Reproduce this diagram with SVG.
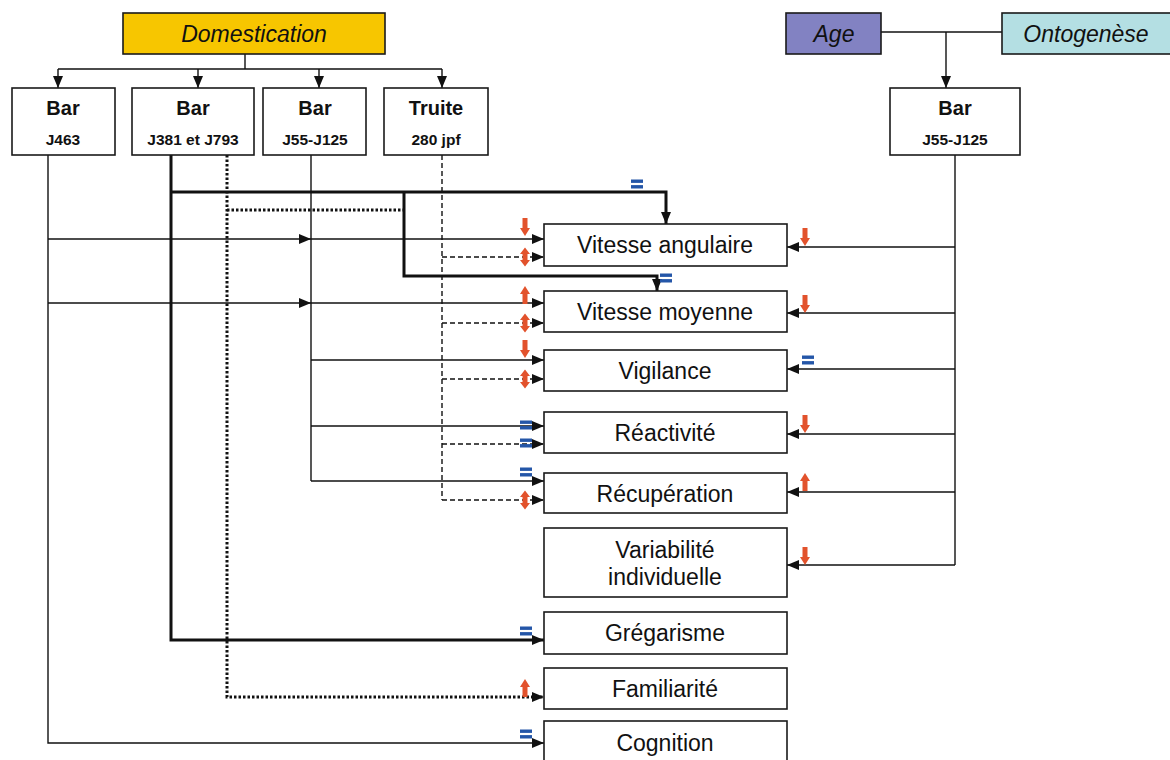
<svg xmlns="http://www.w3.org/2000/svg" xmlns:xlink="http://www.w3.org/1999/xlink" width="1170" height="760" viewBox="0 0 1170 760">
<style>
.box{fill:#fff;stroke:#1a1a1a;stroke-width:1.6}
.t{font-family:"Liberation Sans",Arial,sans-serif;fill:#111;text-anchor:middle}
.prop{font-size:23px}
.ti{font-size:23px;font-style:italic}
.b1{font-size:20px;font-weight:bold}
.b2{font-size:15.5px;font-weight:bold}
.ln{fill:none;stroke:#111;stroke-width:1.4}
.thick{fill:none;stroke:#111;stroke-width:3}
.dot{fill:none;stroke:#111;stroke-width:3;stroke-dasharray:2.5 2}
.dash{fill:none;stroke:#111;stroke-width:1.4;stroke-dasharray:5 3}
.red{fill:#E2522C}
.blue{fill:#2456A8}
</style>
<defs>
<marker id="ah" markerUnits="userSpaceOnUse" markerWidth="12" markerHeight="10" refX="12" refY="5" orient="auto">
<path d="M0,0 L12,5 L0,10 Z" fill="#111"/>
</marker>
<path id="down" class="red" d="M-2.5,-9 H2.5 V1 H5 L0,9 L-5,1 H-2.5 Z"/>
<path id="up" class="red" d="M-2.5,9 H2.5 V-1 H5 L0,-9 L-5,-1 H-2.5 Z"/>
<path id="dbl" class="red" d="M0,-9.5 L5,-3 H2.5 V3 H5 L0,9.5 L-5,3 H-2.5 V-3 H-5 Z"/>
<g id="eq" class="blue"><rect x="-6" y="-4.5" width="12" height="3.4"/><rect x="-6" y="1.1" width="12" height="3.4"/></g>
</defs>

<g id="connectors">
<!-- Domestication tree -->
<path class="ln" d="M245,54 V69 M58,69 H442"/>
<path class="ln" marker-end="url(#ah)" d="M58,69 V88"/>
<path class="ln" marker-end="url(#ah)" d="M198,69 V88"/>
<path class="ln" marker-end="url(#ah)" d="M319,69 V88"/>
<path class="ln" marker-end="url(#ah)" d="M442,69 V88"/>
<!-- Age / Ontogenese -->
<path class="ln" d="M881,32 H1002"/>
<path class="ln" marker-end="url(#ah)" d="M946,32 V88"/>
<!-- Bar J463 -->
<path class="ln" marker-end="url(#ah)" d="M48,155 V743 H544"/>
<path class="ln" marker-end="url(#ah)" d="M48,239 H311"/>
<path class="ln" marker-end="url(#ah)" d="M311,239 H544"/>
<path class="ln" marker-end="url(#ah)" d="M48,303 H311"/>
<path class="ln" marker-end="url(#ah)" d="M311,303 H544"/>
<!-- Bar J381 et J793 thick -->
<path class="thick" marker-end="url(#ah)" d="M171,155 V640 H544"/>
<path class="thick" marker-end="url(#ah)" d="M171,192 H666 V224"/>
<path class="thick" marker-end="url(#ah)" d="M404,192 V276 H657 V291"/>
<!-- Bar J381 et J793 dotted -->
<path class="dot" marker-end="url(#ah)" d="M227,155 V697 H544"/>
<path class="dot" d="M227,210 H404"/>
<!-- Bar J55-J125 -->
<path class="ln" d="M311,155 V481"/>
<path class="ln" marker-end="url(#ah)" d="M311,360 H544"/>
<path class="ln" marker-end="url(#ah)" d="M311,426 H544"/>
<path class="ln" marker-end="url(#ah)" d="M311,481 H544"/>
<!-- Truite dashed -->
<path class="dash" d="M442,155 V500"/>
<path class="dash" marker-end="url(#ah)" d="M442,257 H544"/>
<path class="dash" marker-end="url(#ah)" d="M442,323 H544"/>
<path class="dash" marker-end="url(#ah)" d="M442,379 H544"/>
<path class="dash" marker-end="url(#ah)" d="M442,444 H544"/>
<path class="dash" marker-end="url(#ah)" d="M442,500 H544"/>
<!-- Right Bar J55-J125 -->
<path class="ln" d="M955,155 V565"/>
<path class="ln" marker-end="url(#ah)" d="M955,247 H787"/>
<path class="ln" marker-end="url(#ah)" d="M955,313 H787"/>
<path class="ln" marker-end="url(#ah)" d="M955,369 H787"/>
<path class="ln" marker-end="url(#ah)" d="M955,434 H787"/>
<path class="ln" marker-end="url(#ah)" d="M955,492 H787"/>
<path class="ln" marker-end="url(#ah)" d="M955,565 H787"/>
<!-- effect symbols -->
<use href="#down" x="525" y="227"/>
<use href="#dbl" x="525" y="257"/>
<use href="#up" x="525" y="295"/>
<use href="#dbl" x="525" y="323"/>
<use href="#down" x="525" y="349"/>
<use href="#dbl" x="525" y="379"/>
<use href="#eq" x="526" y="425"/>
<use href="#eq" x="526" y="443"/>
<use href="#eq" x="526" y="472"/>
<use href="#dbl" x="525" y="500"/>
<use href="#eq" x="526" y="631"/>
<use href="#up" x="525" y="688"/>
<use href="#eq" x="526" y="734"/>
<use href="#eq" x="637" y="184"/>
<use href="#eq" x="666" y="278"/>
<use href="#down" x="805" y="237"/>
<use href="#down" x="805" y="304"/>
<use href="#eq" x="808" y="360"/>
<use href="#down" x="805" y="424"/>
<use href="#up" x="805" y="482"/>
<use href="#down" x="805" y="556"/>
</g>

<g id="domestication"><rect x="123" y="13" width="262" height="41" fill="#F7C600" stroke="#1a1a1a" stroke-width="1.6"/><text class="t ti" x="254" y="42">Domestication</text></g>
<g id="age"><rect x="786" y="13" width="95" height="41" fill="#8282C2" stroke="#1a1a1a" stroke-width="1.6"/><text class="t ti" x="834" y="42">Age</text></g>
<g id="ontogenese"><rect x="1002" y="13" width="175" height="41" fill="#B4DFE3" stroke="#1a1a1a" stroke-width="1.6"/><text class="t ti" x="1086" y="42">Ontogenèse</text></g>

<g id="bar-j463"><rect class="box" x="12" y="88" width="103" height="67"/><text class="t b1" x="63" y="115">Bar</text><text class="t b2" x="63" y="145">J463</text></g>
<g id="bar-j381"><rect class="box" x="132" y="88" width="122" height="67"/><text class="t b1" x="193" y="115">Bar</text><text class="t b2" x="193" y="145">J381 et J793</text></g>
<g id="bar-j55"><rect class="box" x="263" y="88" width="103" height="67"/><text class="t b1" x="315" y="115">Bar</text><text class="t b2" x="315" y="145">J55-J125</text></g>
<g id="truite"><rect class="box" x="384" y="88" width="104" height="67"/><text class="t b1" x="436" y="115">Truite</text><text class="t b2" x="436" y="145">280 jpf</text></g>
<g id="bar-right"><rect class="box" x="890" y="88" width="130" height="67"/><text class="t b1" x="955" y="115">Bar</text><text class="t b2" x="955" y="145">J55-J125</text></g>

<g id="vitesse-angulaire"><rect class="box" x="544" y="224" width="243" height="42"/><text class="t prop" x="665" y="253">Vitesse angulaire</text></g>
<g id="vitesse-moyenne"><rect class="box" x="544" y="291" width="243" height="41"/><text class="t prop" x="665" y="320">Vitesse moyenne</text></g>
<g id="vigilance"><rect class="box" x="544" y="350" width="243" height="41"/><text class="t prop" x="665" y="379">Vigilance</text></g>
<g id="reactivite"><rect class="box" x="544" y="412" width="243" height="41"/><text class="t prop" x="665" y="441">Réactivité</text></g>
<g id="recuperation"><rect class="box" x="544" y="473" width="243" height="40"/><text class="t prop" x="665" y="502">Récupération</text></g>
<g id="variabilite"><rect class="box" x="544" y="528" width="243" height="69"/><text class="t prop" x="665" y="558">Variabilité</text><text class="t prop" x="665" y="585">individuelle</text></g>
<g id="gregarisme"><rect class="box" x="544" y="612" width="243" height="42"/><text class="t prop" x="665" y="641">Grégarisme</text></g>
<g id="familiarite"><rect class="box" x="544" y="668" width="243" height="41"/><text class="t prop" x="665" y="697">Familiarité</text></g>
<g id="cognition"><rect class="box" x="544" y="721" width="243" height="42"/><text class="t prop" x="665" y="751">Cognition</text></g>
</svg>
